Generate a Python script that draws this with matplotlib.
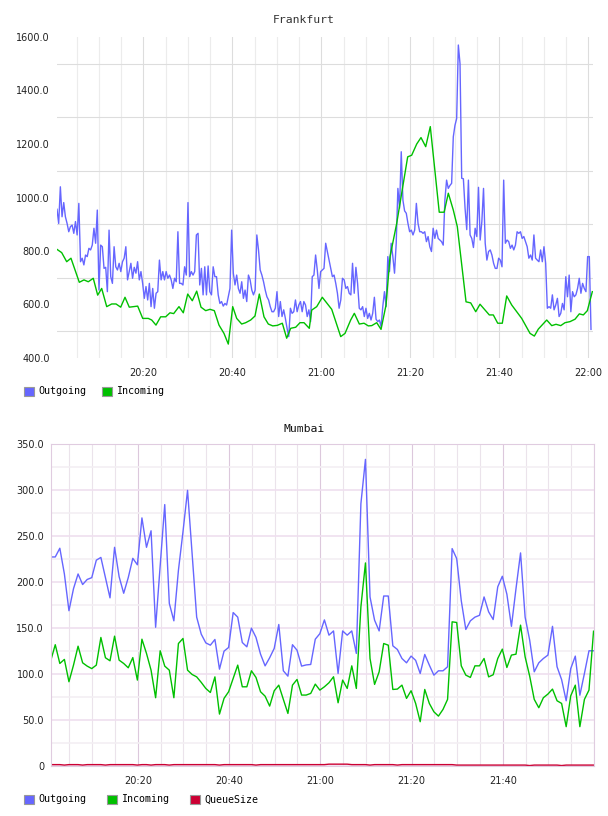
import numpy as np
import matplotlib
matplotlib.use('Agg')
import matplotlib.pyplot as plt
from matplotlib.patches import Patch

# minutes after 20:00
# Frankfurt outgoing, sampled regularly between these two times
fra_out_start = 0.61
fra_out_end = 120.6
fra_out = [
    956, 903, 1040, 928, 981, 928, 903, 872, 891, 897, 866, 910, 860, 978, 760, 773, 748, 785, 779, 810,
    804, 822, 885, 829, 953, 654, 822, 816, 735, 739, 648, 878, 704, 679, 816, 741, 729, 754, 723, 760,
    773, 816, 692, 723, 754, 698, 739, 717, 760, 692, 723, 679, 623, 667, 617, 679, 592, 660, 586, 642,
    648, 766, 692, 723, 692, 723, 698, 710, 692, 660, 698, 685, 872, 679, 679, 673, 741, 710, 981, 704,
    723, 710, 723, 860, 866, 673, 735, 636, 741, 636, 744, 648, 636, 741, 704, 704, 636, 604, 611, 594,
    604, 598, 629, 660, 878, 717, 673, 710, 660, 642, 685, 623, 654, 611, 710, 692, 654, 636, 654, 860,
    804, 729, 710, 685, 654, 629, 617, 592, 573, 573, 586, 648, 555, 611, 555, 580, 548, 511, 480, 586,
    567, 573, 617, 573, 598, 611, 573, 611, 598, 555,
    580, 536, 704, 710, 785, 729, 660, 723, 729, 735, 829, 798, 766, 735, 704, 710, 679, 642, 586, 617,
    698, 692, 660, 667, 642, 636, 754, 642, 739, 679, 586, 580, 592, 555, 586, 548, 567, 542, 567, 627,
    545, 536, 542, 517, 592, 648, 592, 779, 723, 829, 779, 717, 829, 1034, 960, 1171, 990, 950, 941, 903,
    872, 878, 860, 878, 978, 903, 872, 872, 866, 872, 835, 854, 816, 798, 885, 847, 878, 847, 841, 835,
    822, 991, 1065, 1034, 1045, 1053, 1227, 1270, 1295, 1570, 1500, 1072, 1070, 960, 880, 1065, 860, 847, 813, 885,
    854, 1038, 841, 910, 1034, 829, 766, 798, 804, 785, 754, 735, 735, 773, 766, 741, 1065, 829, 841, 835,
    810, 822, 804, 822, 872, 866, 872, 847, 854, 835, 816, 773, 785, 766, 860, 773, 766, 760, 804, 760,
    816, 754, 586, 592, 586, 636, 580, 598, 623, 555, 567, 604, 580, 704, 629, 710, 573, 648, 629, 636,
    660, 698, 642, 679, 660, 648, 779, 779, 507,
]

fra_in_t = [
    0.61, 1.66, 2.79, 3.75, 5.62, 6.67, 7.64, 8.76, 9.75, 10.65, 11.78, 12.9, 13.88, 14.92, 15.89, 16.85,
    18.74, 19.87, 21.12, 21.89, 22.85, 23.9, 25.03, 26.0, 26.83, 28.02, 28.99, 29.98, 31.01, 32.0, 32.97,
    34.02, 34.99, 35.96, 37.01, 38.13, 39.1, 40.09, 40.99, 42.11, 43.01, 44.13, 45.1, 46.07, 47.12, 48.09,
    49.08, 50.11, 51.24, 52.22, 53.12, 54.25, 55.21, 56.11, 57.3, 57.84, 58.97, 60.22, 62.34, 64.36, 65.33,
    66.6, 67.42, 68.54, 69.6, 70.56, 71.33, 72.45, 73.42, 74.54, 75.44, 76.94, 79.41, 80.31, 81.44, 82.4,
    83.46, 84.49, 86.5, 87.6, 88.54, 89.66, 90.56, 92.52, 93.57, 94.7, 95.66, 97.75, 98.65, 99.64, 100.67,
    101.66, 102.79, 103.91, 105.03, 106.9, 107.87, 108.76, 110.65, 111.78, 112.74, 113.8, 114.76, 115.89,
    117.01, 117.98, 118.88, 119.78, 120.9,
]
fra_in = [
    806, 794, 760, 773, 683, 692, 685, 698, 635, 660, 592, 602, 602, 590, 627, 590,
    594, 548, 548, 542, 523, 554, 554, 569, 566, 592, 569, 639, 614, 650, 590,
    577, 582, 577, 523, 492, 452, 592, 548, 527, 532, 542, 557, 639, 554, 527,
    520, 522, 530, 474, 511, 515, 532, 532, 511, 579, 592, 627, 582, 480, 492,
    542, 567, 527, 530, 520, 521, 532, 507, 598, 779, 903, 1152, 1158, 1200, 1224,
    1190, 1265, 945, 945, 1016, 953, 891, 610, 606, 573, 601, 561, 561, 530, 530,
    632, 598, 573, 548, 492, 482, 508, 542, 521, 526, 521, 532, 536,
    545, 565, 561, 577, 648,
]

# Mumbai: one sample per minute
mum_start = 0.9
mum_out = [
    227.5, 227.5, 237, 209, 169, 193, 209, 197.5, 203, 205, 224, 227, 205, 183, 238, 206, 188, 205, 226, 219,
    270, 238, 256, 151, 218, 284.5, 177, 158, 213, 255, 300,
    231, 162, 143.5, 134, 131.5, 137.7, 105.4, 125, 129, 167, 162, 134.4, 129.7, 150, 140, 121.7, 109, 117.8,
    128, 154, 103.6, 97.8, 132, 126, 108.7, 110, 110.5, 138, 144, 159, 142.4,
    147, 100.7, 147, 142.4, 147, 122.5, 285.5, 333.7, 184, 158.7, 147, 185, 185, 130.8, 126.8, 117, 112.3,
    119.6, 115, 100.7, 121.4, 109.8, 98.9, 103.6, 103.6, 108, 236.6, 225.7, 180, 148.6,
    158, 162, 164, 184, 167.8, 159.4, 195, 206.5, 187, 152, 193, 231.9, 162, 137, 102.5, 112.3, 117, 120.7,
    152, 108, 94, 71, 106, 119.6, 77, 100.7, 125.4, 125.4,
]
mum_in = [
    114.5, 132, 111.6, 116, 91.7, 109.8, 130.4, 112.3, 108.7, 106, 109.8, 139.9, 117.8, 114.5, 141.3, 115.2,
    111.6, 106.9, 118, 93.5, 138, 122.5, 104.3, 74.3, 125.4, 108.7, 104.3, 74.3, 133.3, 138.8, 104.3,
    99.6, 97, 91, 84.4, 80, 97, 56.5, 73.6, 80.8, 95.3, 109.8, 86.2, 86.2, 103.6, 96.4, 80.8, 76, 65.2,
    81.9, 88, 72.5, 57.2, 88, 94.2, 77.2, 77.2, 79, 89.1, 82.6, 86.2, 90.6,
    97.1, 68.8, 93.5, 84.4, 109, 84.4, 173.2, 221, 117, 88.8, 102.5, 133.3, 131.5, 83.3, 83.7, 88, 73.6,
    81.9, 68.1, 48.2, 83.3, 68.1, 59, 54.3, 61.6, 72.5, 156.9, 156.2, 109, 98.9,
    96.4, 109, 109, 117, 97, 99.3, 117, 127.2, 107.2, 120.7, 121.7, 153.3, 118.8, 97.8, 72.5, 63.4, 74.3,
    78.3, 83.7, 71, 68.1, 42.8, 76.4, 88, 42.8, 72.5, 82.6, 146.7,
]
mum_queue = [
    1.5, 1.5, 1.5, 1.0, 1.5, 1.5, 1.5, 1.0, 1.5, 1.5,
    1.5, 1.5, 1.0, 1.5, 1.5, 1.5, 1.5, 1.5, 1.5, 1.0,
    1.5, 1.5, 1.0, 1.5, 1.5, 1.5, 1.0, 1.5, 1.5, 1.5,
    1.5, 1.5, 1.5, 1.5, 1.5, 1.5, 1.5, 1.0, 1.5, 1.5,
    1.5, 1.5, 1.5, 1.5, 1.5, 1.0, 1.5, 1.5, 1.5, 1.5,
    1.5, 1.5, 1.5, 1.5, 1.5, 1.5, 1.5, 1.5, 1.5, 1.5,
    1.5, 2.0, 2.0, 2.0, 2.0, 2.0, 1.5, 1.5, 1.5, 1.5,
    1.0, 1.5, 1.5, 1.5, 1.5, 1.5, 1.0, 1.5, 1.5, 1.5,
    1.5, 1.5, 1.5, 1.5, 1.5, 1.5, 1.5, 1.5, 1.5, 1.0,
    1.0, 1.0, 1.0, 1.0, 1.0, 1.0, 1.0, 1.0, 1.0, 1.0,
    1.0, 1.0, 1.0, 1.0, 1.0, 0.5, 1.0, 1.0, 1.0, 1.0,
    1.0, 1.0, 0.5, 1.0, 1.0, 1.0, 1.0, 1.0, 1.0, 1.0,
]

fra_yticks = [400, 600, 800, 1000, 1200, 1400, 1600]
mum_yticks = [0, 50, 100, 150, 200, 250, 300, 350]
fra_xticks = [20, 40, 60, 80, 100, 120]
mum_xticks = [20, 40, 60, 80, 100]

C_OUT = '#6666ff'
C_IN = '#00c000'
C_Q = '#cc0033'

MONO = 'DejaVu Sans Mono'
SANS = 'DejaVu Sans'


def hhmm(m):
    return '%d:%02d' % (20 + m // 60, m % 60)


def style_ticks(ax, xticks, yticks, ylabels, pad_y):
    ax.set_xticks(xticks)
    ax.set_xticklabels([hhmm(m) for m in xticks], fontfamily=SANS, fontsize=7, color='#222222')
    ax.set_yticks(yticks)
    ax.set_yticklabels(ylabels, fontfamily=SANS, fontsize=7, color='#222222')
    ax.tick_params(axis='both', which='both', length=0)
    ax.tick_params(axis='x', pad=7)
    ax.tick_params(axis='y', pad=pad_y)
    ax.set_xticks([m for m in range(5, 125, 5) if m not in xticks], minor=True)
    ax.set_axisbelow(True)


fig = plt.figure(figsize=(6.08, 8.16), dpi=100)

# ---- Frankfurt ----
ax1 = fig.add_axes([57 / 608, 1 - 358 / 816, 536 / 608, 321 / 816])
t_out = np.linspace(fra_out_start, fra_out_end, len(fra_out))
ax1.plot(t_out, fra_out, color=C_OUT, lw=1.0)
ax1.plot(fra_in_t, fra_in, color=C_IN, lw=1.0)
ax1.set_ylim(400, 1600)
ax1.set_xlim(fra_out_start, max(fra_in_t[-1], fra_out_end) + 0.15)
style_ticks(ax1, fra_xticks, fra_yticks, ['%.1f' % v for v in fra_yticks], 5)
ax1.set_yticks(range(500, 1600, 200), minor=True)
ax1.grid(which='major', axis='x', color='#dddddd', lw=0.8)
ax1.grid(which='minor', axis='x', color='#ececec', lw=0.8)
ax1.grid(which='minor', axis='y', color='#dddddd', lw=0.8)
for s in ax1.spines.values():
    s.set_visible(False)
fig.text(304 / 608, 1 - 20 / 816, 'Frankfurt', ha='center', va='center',
         fontfamily=MONO, fontsize=8.2, color='#333333')

leg1 = [Patch(facecolor=C_OUT, edgecolor='#999999', lw=0.8),
        Patch(facecolor=C_IN, edgecolor='#999999', lw=0.8)]
fig.legend(leg1, ['Outgoing', 'Incoming'], loc='upper left',
           bbox_to_anchor=(23.5 / 608, 1 - 386.5 / 816), ncol=2, frameon=False,
           prop={'family': MONO, 'size': 7.2}, handlelength=1.0, handleheight=1.0,
           handletextpad=0.5, columnspacing=1.5, borderpad=0, borderaxespad=0)

# ---- Mumbai ----
ax2 = fig.add_axes([50.7 / 608, 1 - 766 / 816, 543.3 / 608, 321.6 / 816])
t_m = mum_start + np.arange(len(mum_out))
ax2.plot(t_m, mum_out, color=C_OUT, lw=1.0)
ax2.plot(t_m, mum_in, color=C_IN, lw=1.0)
ax2.plot(t_m, mum_queue, color=C_Q, lw=1.0)
ax2.set_ylim(0, 350)
ax2.set_xlim(t_m[0], t_m[-1])
style_ticks(ax2, mum_xticks, mum_yticks, ['0'] + ['%.1f' % v for v in mum_yticks[1:]], 4.8)
ax2.set_yticks(range(25, 350, 50), minor=True)
ax2.grid(which='major', axis='x', color='#dcc8dc', lw=0.8)
ax2.grid(which='minor', axis='x', color='#ebe3eb', lw=0.8)
ax2.grid(which='major', axis='y', color='#efdfef', lw=1.2)
ax2.grid(which='minor', axis='y', color='#f3eff3', lw=1.2)
for s in ax2.spines.values():
    s.set_color('#e0cce0')
    s.set_linewidth(0.8)
fig.text(304 / 608, 1 - 429 / 816, 'Mumbai', ha='center', va='center',
         fontfamily=MONO, fontsize=8.2, color='#111111')

leg2 = [Patch(facecolor=C_OUT, edgecolor='#999999', lw=0.8),
        Patch(facecolor=C_IN, edgecolor='#999999', lw=0.8),
        Patch(facecolor=C_Q, edgecolor='#999999', lw=0.8)]
fig.legend(leg2, ['Outgoing', 'Incoming', 'QueueSize'], loc='upper left',
           bbox_to_anchor=(23.5 / 608, 1 - 794.5 / 816), ncol=3, frameon=False,
           prop={'family': MONO, 'size': 7.2}, handlelength=1.0, handleheight=1.0,
           handletextpad=0.5, columnspacing=2.0, borderpad=0, borderaxespad=0)

fig.savefig('out.png', dpi=100)
